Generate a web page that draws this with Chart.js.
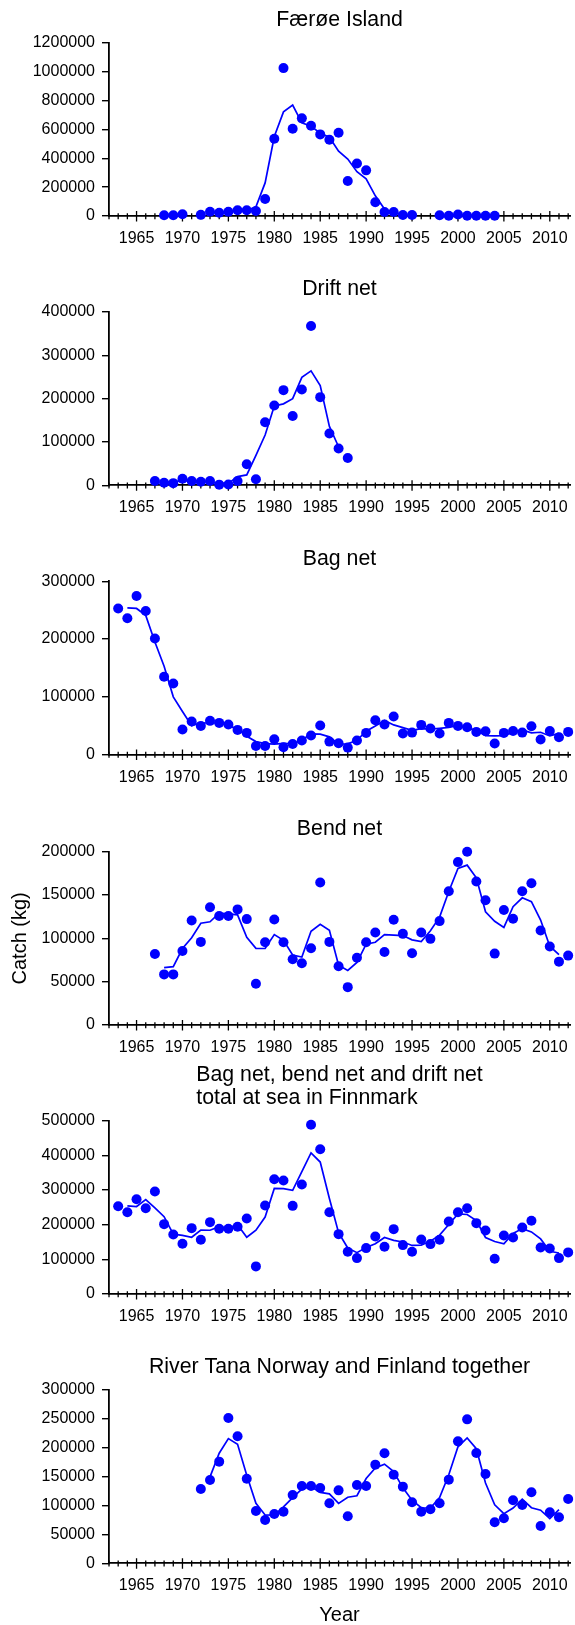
<!DOCTYPE html>
<html>
<head>
<meta charset="utf-8">
<title>Salmon catch in Finnmark</title>
<script src="https://cdn.jsdelivr.net/npm/chart.js@4/dist/chart.umd.min.js"></script>
<style>
  html, body { margin: 0; padding: 0; background: #fff; overflow: hidden; }
  #page { position: relative; width: 575px; height: 1625px; overflow: hidden; background: #fff; }
  #page canvas { position: absolute; left: 0; }
</style>
</head>
<body>
<div id="page"></div>
<script>
// ---- Year labels on the time axis ----
const yearTickLabels = [1965, 1970, 1975, 1980, 1985, 1990, 1995, 2000, 2005, 2010];

// ---- Færøe Island ----
const faroeYears = [1968, 1969, 1970, 1972, 1973, 1974, 1975, 1976, 1977, 1978, 1979, 1980, 1981, 1982, 1983, 1984, 1985, 1986, 1987, 1988, 1989, 1990, 1991, 1992, 1993, 1994, 1995, 1998, 1999, 2000, 2001, 2002, 2003, 2004];
const faroeCatch = [5000, 5000, 12000, 8000, 30000, 22000, 30000, 40000, 40000, 35000, 118000, 535000, 1024000, 604000, 676000, 625000, 565000, 528000, 577000, 242000, 364000, 316000, 95000, 28000, 28000, 7000, 7000, 5000, 2000, 10000, 2000, 2000, 2000, 2000];
const faroeTrendYears = [1969, 1970, 1971, 1972, 1973, 1974, 1975, 1976, 1977, 1978, 1979, 1980, 1981, 1982, 1983, 1984, 1985, 1986, 1987, 1988, 1989, 1990, 1991, 1992, 1993, 1994, 1995, 1996, 1997, 1998, 1999, 2000, 2001, 2002, 2003];
const faroeTrend = [7000, null, null, null, 20000, 27000, 31000, 37000, 38000, 64000, 229000, 550000, 721000, 768000, 645000, 622000, 573000, 545000, 449000, 394000, 307000, 258000, 140000, 48000, 21000, 14000, null, null, null, null, 6000, 5000, 5000, 2000, 2000];

// ---- Drift net ----
const driftYears = [1967, 1968, 1969, 1970, 1971, 1972, 1973, 1974, 1975, 1976, 1977, 1978, 1979, 1980, 1981, 1982, 1983, 1984, 1985, 1986, 1987, 1988];
const driftCatch = [10000, 6000, 5000, 15000, 10000, 8000, 10000, 1500, 2000, 10000, 48500, 14000, 145600, 184000, 219600, 160000, 221000, 367600, 203500, 119400, 84800, 63200];
const driftTrendYears = [1968, 1969, 1970, 1971, 1972, 1973, 1974, 1975, 1976, 1977, 1978, 1979, 1980, 1981, 1982, 1983, 1984, 1985, 1986, 1987];
const driftTrend = [7000, 8700, 10000, 11000, 9300, 6500, 4500, 4500, 20000, 24000, 69000, 116000, 183000, 188000, 200000, 249000, 264000, 230000, 136000, 89000];

// ---- Years 1963-2012 (bag net and total at sea) ----
const seaYears = [1963, 1964, 1965, 1966, 1967, 1968, 1969, 1970, 1971, 1972, 1973, 1974, 1975, 1976, 1977, 1978, 1979, 1980, 1981, 1982, 1983, 1984, 1985, 1986, 1987, 1988, 1989, 1990, 1991, 1992, 1993, 1994, 1995, 1996, 1997, 1998, 1999, 2000, 2001, 2002, 2003, 2004, 2005, 2006, 2007, 2008, 2009, 2010, 2011, 2012];
const seaTrendYears = [1964, 1965, 1966, 1967, 1968, 1969, 1970, 1971, 1972, 1973, 1974, 1975, 1976, 1977, 1978, 1979, 1980, 1981, 1982, 1983, 1984, 1985, 1986, 1987, 1988, 1989, 1990, 1991, 1992, 1993, 1994, 1995, 1996, 1997, 1998, 1999, 2000, 2001, 2002, 2003, 2004, 2005, 2006, 2007, 2008, 2009, 2010, 2011];

// ---- Bag net ----
const bagCatch = [253000, 236000, 274500, 248500, 201000, 134700, 123000, 43300, 57200, 49700, 58400, 54900, 52000, 42800, 37600, 15000, 15000, 26600, 12700, 18500, 24300, 33000, 50300, 22500, 19700, 12100, 24300, 37600, 59500, 52000, 65900, 36400, 38100, 51400, 45100, 36400, 54900, 49700, 47400, 39300, 40500, 19100, 37600, 41000, 38100, 49100, 26000, 41000, 30000, 39300];
const bagTrend = [254000, 253000, 241000, 195000, 153000, 100000, 74500, 50100, 55100, 54300, 55100, 49900, 44100, 31800, 22500, 18900, 18100, 19300, 18500, 25300, 35900, 35300, 30800, 18100, 18700, 24700, 40500, 49700, 59100, 51400, 46800, 42000, 44900, 44300, 45500, 47000, 50700, 45500, 42400, 33000, 32400, 32600, 38900, 42700, 37700, 38700, 32300, 36800];

// ---- Bend net ----
const bendYears = [1967, 1968, 1969, 1970, 1971, 1972, 1973, 1974, 1975, 1976, 1977, 1978, 1979, 1980, 1981, 1982, 1983, 1984, 1985, 1986, 1987, 1988, 1989, 1990, 1991, 1992, 1993, 1994, 1995, 1996, 1997, 1998, 1999, 2000, 2001, 2002, 2003, 2004, 2005, 2006, 2007, 2008, 2009, 2010, 2011, 2012];
const bendCatch = [82000, 58400, 58400, 85500, 120700, 95900, 135800, 125700, 125700, 133400, 122200, 47600, 95500, 121800, 95500, 75800, 71200, 88600, 164400, 95900, 67700, 43700, 77700, 95500, 106800, 84300, 121500, 105200, 82800, 106800, 99400, 119900, 154300, 188000, 200000, 165600, 143900, 82400, 132700, 122600, 154300, 163600, 109100, 90500, 73100, 80100];
const bendTrendYears = [1968, 1969, 1970, 1971, 1972, 1973, 1974, 1975, 1976, 1977, 1978, 1979, 1980, 1981, 1982, 1983, 1984, 1985, 1986, 1987, 1988, 1989, 1990, 1991, 1992, 1993, 1994, 1995, 1996, 1997, 1998, 1999, 2000, 2001, 2002, 2003, 2004, 2005, 2006, 2007, 2008, 2009, 2010, 2011];
const bendTrend = [66300, 67400, 88200, 100700, 117500, 119100, 129100, 128300, 127100, 101100, 88400, 88300, 104300, 97700, 80800, 78500, 108100, 116300, 109300, 69100, 63000, 72300, 93300, 95500, 104200, 103700, 103200, 98300, 96300, 108700, 124500, 154100, 180800, 184500, 169800, 130600, 119700, 112600, 136500, 146800, 142300, 121100, 90900, 81200];

// ---- Bag net, bend net and drift net total at sea ----
const totalCatch = [253400, 236100, 273500, 247600, 295600, 201500, 171800, 144900, 190000, 156400, 207300, 188100, 188100, 193900, 217900, 79700, 255300, 331100, 327300, 254300, 315700, 488500, 417500, 236100, 172700, 121900, 103600, 132400, 166000, 136300, 187100, 141100, 121900, 157400, 144000, 156400, 209200, 236100, 247600, 204400, 183300, 101700, 168900, 163100, 191900, 211100, 134400, 131500, 103600, 120000];
const totalTrend = [254300, 252400, 272200, 248200, 223000, 172700, 168900, 163800, 184600, 183900, 194500, 190000, 200000, 163800, 184300, 222000, 304600, 304200, 299100, 352800, 407200, 380700, 275400, 176900, 132700, 119300, 134000, 144900, 163100, 154800, 150000, 140100, 141100, 152600, 169900, 200600, 231000, 229400, 211800, 163100, 151300, 144600, 174600, 188700, 179100, 159000, 123200, 118400];

// ---- River Tana, Norway and Finland together ----
const tanaYears = [1972, 1973, 1974, 1975, 1976, 1977, 1978, 1979, 1980, 1981, 1982, 1983, 1984, 1985, 1986, 1987, 1988, 1989, 1990, 1991, 1992, 1993, 1994, 1995, 1996, 1997, 1998, 1999, 2000, 2001, 2002, 2003, 2004, 2005, 2006, 2007, 2008, 2009, 2010, 2011, 2012];
const tanaCatch = [128600, 144200, 176000, 251500, 219800, 146500, 90600, 75000, 85400, 89400, 118300, 133800, 133800, 130400, 103800, 126300, 81300, 135600, 133800, 170800, 190400, 153500, 132700, 105600, 89400, 93500, 103800, 144800, 211100, 249200, 191000, 154600, 71000, 77900, 109000, 101000, 122900, 64600, 88300, 79600, 111300];
const tanaTrendYears = [1973, 1974, 1975, 1976, 1977, 1978, 1979, 1980, 1981, 1982, 1983, 1984, 1985, 1986, 1987, 1988, 1989, 1990, 1991, 1992, 1993, 1994, 1995, 1996, 1997, 1998, 1999, 2000, 2001, 2002, 2003, 2004, 2005, 2006, 2007, 2008, 2009, 2010, 2011];
const tanaTrend = [149600, 190600, 215800, 205900, 152300, 104000, 83700, 83300, 97700, 113800, 128600, 132700, 122700, 120200, 103800, 114400, 116900, 146700, 165000, 171600, 158900, 130600, 109200, 96200, 95600, 114000, 153200, 201700, 217100, 198300, 138900, 101200, 85900, 95600, 111000, 96200, 91900, 77500, 93100];

// ---- Drawing ----
const FONT = "'Liberation Sans', Arial, Helvetica, sans-serif";
const BLUE = '#0000ff';
const X_MIN = 1962, X_MAX = 2012.2;
const PLOT_H = 173.3;
const AXIS_LEFT = 109;

Chart.defaults.font.family = FONT;
Chart.defaults.font.size = 16;
Chart.defaults.color = '#000';

const pairs = (xs, ys) => xs.map((x, i) => ({ x: x, y: ys[i] }));

// Small "+" marks for every year on the time axis, longer at each fifth year.
const yearTickMarks = {
  id: 'yearTickMarks',
  beforeDatasetsDraw(chart) {
    const xs = chart.scales.x;
    const y0 = chart.chartArea.bottom;
    const ctx = chart.ctx;
    ctx.save();
    ctx.strokeStyle = '#000';
    ctx.lineWidth = 1.3;
    ctx.beginPath();
    for (let yr = Math.ceil(xs.min); yr <= xs.max; yr++) {
      const px = xs.getPixelForValue(yr);
      const major = yr % 5 === 0;
      ctx.moveTo(px, y0 - (major ? 5 : 2.8));
      ctx.lineTo(px, y0 + (major ? 5.5 : 3.2));
    }
    ctx.stroke();
    ctx.restore();
  }
};

// Panel heading: lines left-aligned inside a block centred over the plot.
const panelTitle = {
  id: 'panelTitle',
  afterDraw(chart, args, opts) {
    const lines = opts.lines || [];
    if (!lines.length) return;
    const ctx = chart.ctx;
    const area = chart.chartArea;
    ctx.save();
    ctx.font = '21.3px ' + FONT;
    ctx.fillStyle = '#000';
    ctx.textBaseline = 'middle';
    ctx.textAlign = 'left';
    const w = Math.max(...lines.map(l => ctx.measureText(l).width));
    const x0 = (area.left + area.right) / 2 - w / 2;
    lines.forEach((line, i) => {
      const y = area.top - 22.6 - (lines.length - 1 - i) * 23.3;
      ctx.fillText(line, x0, y);
    });
    ctx.restore();
  }
};

const panels = [
  { lines: ['Færøe Island'], top: 0, height: 256, areaTop: 42.7, xh: 38,
    yMax: 1200000, yStep: 200000, xs: faroeYears, ys: faroeCatch, tx: faroeTrendYears, ty: faroeTrend },
  { lines: ['Drift net'], top: 268, height: 257, areaTop: 44, xh: 38,
    yMax: 400000, yStep: 100000, xs: driftYears, ys: driftCatch, tx: driftTrendYears, ty: driftTrend },
  { lines: ['Bag net'], top: 537, height: 258, areaTop: 44.3, xh: 38,
    yMax: 300000, yStep: 100000, xs: seaYears, ys: bagCatch, tx: seaTrendYears, ty: bagTrend },
  { lines: ['Bend net'], top: 807, height: 258, areaTop: 44.7, xh: 38, yTitle: 'Catch (kg)',
    yMax: 200000, yStep: 50000, xs: bendYears, ys: bendCatch, tx: bendTrendYears, ty: bendTrend },
  { lines: ['Bag net, bend net and drift net', 'total at sea in Finnmark'], top: 1052, height: 282, areaTop: 68.7, xh: 38,
    yMax: 500000, yStep: 100000, xs: seaYears, ys: totalCatch, tx: seaTrendYears, ty: totalTrend },
  { lines: ['River Tana Norway and Finland together'], top: 1346, height: 279, areaTop: 44, xh: 61.7, xTitle: 'Year',
    yMax: 300000, yStep: 50000, xs: tanaYears, ys: tanaCatch, tx: tanaTrendYears, ty: tanaTrend }
];

const page = document.getElementById('page');

panels.forEach(p => {
  const canvas = document.createElement('canvas');
  canvas.width = 575;
  canvas.height = p.height;
  canvas.style.top = p.top + 'px';
  canvas.style.width = '575px';
  canvas.style.height = p.height + 'px';
  page.appendChild(canvas);

  const padBottom = p.height - (p.areaTop + PLOT_H) - p.xh;

  new Chart(canvas, {
    type: 'scatter',
    data: {
      datasets: [
        {
          data: pairs(p.xs, p.ys),
          showLine: false,
          pointRadius: 5,
          pointHoverRadius: 5,
          pointBackgroundColor: BLUE,
          pointBorderWidth: 0,
          pointBorderColor: BLUE,
          clip: false
        },
        {
          data: pairs(p.tx, p.ty),
          showLine: true,
          spanGaps: false,
          borderColor: BLUE,
          borderWidth: 1.7,
          pointRadius: 0,
          tension: 0,
          clip: false
        }
      ]
    },
    options: {
      responsive: false,
      animation: false,
      events: [],
      layout: { padding: { top: p.areaTop, bottom: padBottom, left: 0, right: 0 } },
      plugins: {
        legend: { display: false },
        tooltip: { enabled: false },
        title: { display: false },
        panelTitle: { lines: p.lines }
      },
      scales: {
        x: {
          type: 'linear',
          min: X_MIN,
          max: X_MAX,
          afterBuildTicks: s => { s.ticks = yearTickLabels.map(v => ({ value: v })); },
          afterFit: s => { s.height = p.xh; s.paddingLeft = 0; s.paddingRight = 0; },
          grid: { display: false, drawTicks: false },
          border: { display: true, color: '#000', width: 1.8 },
          ticks: { padding: 13, autoSkip: false, maxRotation: 0, font: { size: 16 }, callback: v => String(v) },
          title: p.xTitle
            ? { display: true, text: p.xTitle, font: { size: 20, lineHeight: 1 }, padding: { top: 0, bottom: 0 } }
            : { display: false }
        },
        y: {
          min: 0,
          max: p.yMax,
          afterFit: s => { s.width = AXIS_LEFT; },
          grid: { display: true, drawOnChartArea: false, drawTicks: true, tickLength: 7, color: '#000', lineWidth: 1.4 },
          border: { display: true, color: '#000', width: 1.8 },
          ticks: { stepSize: p.yStep, padding: 7, font: { size: 16 }, callback: v => String(v) },
          title: p.yTitle
            ? { display: true, text: p.yTitle, font: { size: 20, lineHeight: 1 }, padding: { top: 10, bottom: 0 } }
            : { display: false }
        }
      }
    },
    plugins: [yearTickMarks, panelTitle]
  });
});
</script>
</body>
</html>
